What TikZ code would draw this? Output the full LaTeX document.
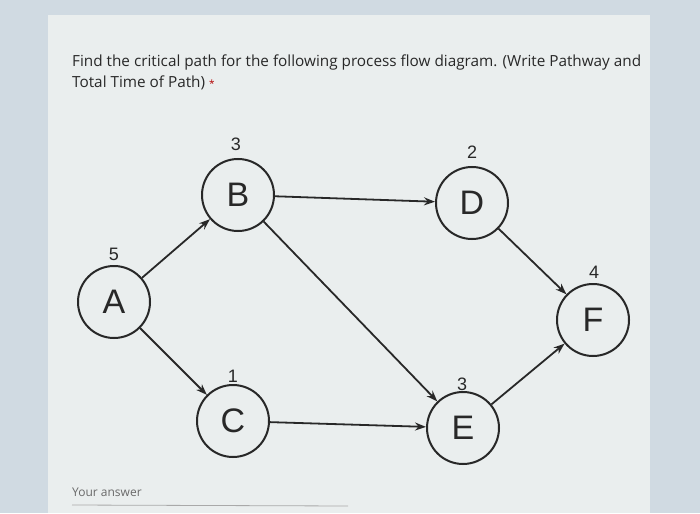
\documentclass[tikz,border=0pt]{standalone}
\usepackage{fontspec}
\setmainfont{Liberation Sans}
\newfontfamily\titlefont{Open Sans}
\usetikzlibrary{arrows.meta}
\definecolor{cardbg}{RGB}{234,238,238}
\definecolor{sidebg}{RGB}{208,218,226}
\definecolor{ink}{RGB}{40,40,40}
\tikzset{
  x=1pt, y=-1pt,
  proc/.style={circle, draw=ink, line width=2pt, minimum size=72pt, inner sep=0pt, text=ink, font=\fontsize{34}{34}\selectfont},
  dur/.style={text=ink, font=\fontsize{18}{18}\selectfont, inner sep=0pt},
  flow/.style={draw=ink, line width=1.8pt, -{Stealth[length=11pt,width=8pt]}},
}
\begin{document}
\begin{tikzpicture}
\useasboundingbox (0,0) rectangle (700,513);
\fill[sidebg] (0,0) rectangle (700,513);
\fill[cardbg] (48,15) rectangle (650,513);
\node[anchor=base west, inner sep=0pt, text=ink, font=\titlefont\fontsize{15.3}{19}\selectfont] (t1) at (72,67) {Find the critical path for the following process flow diagram. (Write Pathway and};
\node[anchor=base west, inner sep=0pt, text=ink, font=\titlefont\fontsize{15.3}{19}\selectfont] (t2) at (72,88) {Total Time of Path) \textcolor{red!70!black}{\fontsize{10}{10}\selectfont *}};

\node[proc] (A) at (114,302) {A};
\node[proc] (B) at (238,195) {B};
\node[proc] (C) at (233,421) {C};
\node[proc] (D) at (472,203) {D};
\node[proc] (E) at (463,428) {E};
\node[proc] (F) at (593,320) {F};

\node[dur] (lA) at (114,254) {5};
\node[dur] (lB) at (236,144) {3};
\node[dur] (lC) at (233,376) {1};
\node[dur] (lD) at (472,152) {2};
\node[dur] (lE) at (462,384) {3};
\node[dur] (lF) at (594,272) {4};

\draw[flow] (A) -- (B);
\draw[flow] (A) -- (C);
\draw[flow] (B) -- (D);
\draw[flow] (B) -- (E);
\draw[flow] (D) -- (F);
\draw[flow] (C) -- (E);
\draw[flow] (E) -- (F);

\node[anchor=base west, inner sep=0pt, text=ink!70, font=\titlefont\fontsize{12}{14}\selectfont] (ans) at (72,496) {Your answer};
\coordinate (u1) at (72,505);
\coordinate (u2) at (348,506);
\draw[ink!40, line width=0.8pt] (u1) -- (u2);
\end{tikzpicture}
\end{document}
